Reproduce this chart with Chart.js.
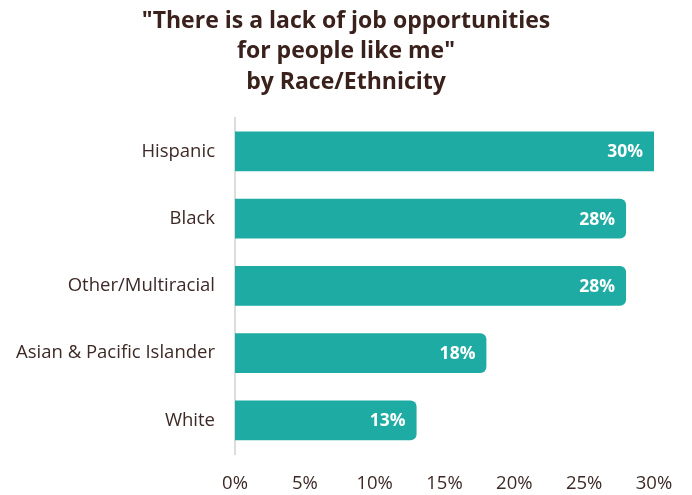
<!DOCTYPE html>
<html>
<head>
<meta charset="utf-8">
<script src="https://cdn.jsdelivr.net/npm/chart.js@4.4.1/dist/chart.umd.min.js"></script>
<style>
  html, body { margin: 0; padding: 0; background: #ffffff; }
  #wrap { width: 692px; height: 495px; }
</style>
</head>
<body>
<div id="wrap"><canvas id="chart" width="692" height="495"></canvas></div>
<script>
// Share of respondents agreeing, by race/ethnicity (percent)
const categories = ["Hispanic", "Black", "Other/Multiracial", "Asian & Pacific Islander", "White"];
const agreePct = [30, 28, 28, 18, 13];
const xTicks = [0, 5, 10, 15, 20, 25, 30];
const titleLines = ['"There is a lack of job opportunities', 'for people like me"', 'by Race/Ethnicity'];

const TEAL = '#1eaba3';
const INK = '#3d2a26';
const FONT = '"Open Sans", "Noto Sans", sans-serif';
const X_MAX = 30;

// Writes each bar's value in white just inside its end
const valueLabels = {
  id: 'valueLabels',
  afterDatasetsDraw(chart) {
    const { ctx } = chart;
    const meta = chart.getDatasetMeta(0);
    ctx.save();
    ctx.fillStyle = '#ffffff';
    ctx.font = '700 17.5px ' + FONT;
    ctx.textAlign = 'right';
    ctx.textBaseline = 'middle';
    meta.data.forEach((bar, i) => {
      const v = chart.data.datasets[0].data[i];
      ctx.fillText(v + '%', bar.x - 11, bar.y + 1);
    });
    ctx.restore();
  }
};

new Chart(document.getElementById('chart'), {
  type: 'bar',
  data: {
    labels: categories,
    datasets: [{
      data: agreePct,
      backgroundColor: TEAL,
      borderSkipped: 'start',
      borderRadius: (c) => (c.raw >= X_MAX ? 0 : 6),
      categoryPercentage: 0.59,
      barPercentage: 1.0
    }]
  },
  options: {
    indexAxis: 'y',
    responsive: false,
    animation: false,
    layout: { padding: 0 },
    plugins: {
      legend: { display: false },
      tooltip: { enabled: false },
      title: {
        display: true,
        text: titleLines,
        color: '#3a211c',
        font: { family: FONT, size: 23, weight: '700', lineHeight: 1.33 },
        padding: { top: 6, bottom: 20 }
      }
    },
    scales: {
      x: {
        min: 0,
        max: X_MAX,
        afterBuildTicks: (scale) => { scale.ticks = xTicks.map(v => ({ value: v })); },
        afterFit: (scale) => { scale.height = 41; scale.paddingRight = 38; },
        grid: { display: false, drawTicks: false },
        border: { display: false },
        ticks: {
          color: INK,
          padding: 19,
          font: { family: FONT, size: 18.5 },
          callback: (v) => v + '%'
        }
      },
      y: {
        afterFit: (scale) => { scale.width = 235; },
        grid: { display: false, drawTicks: false },
        border: { display: true, color: '#dcdcdc', width: 2 },
        ticks: {
          color: INK,
          padding: 20,
          font: { family: FONT, size: 18.5 }
        }
      }
    }
  },
  plugins: [valueLabels]
});
</script>
</body>
</html>
